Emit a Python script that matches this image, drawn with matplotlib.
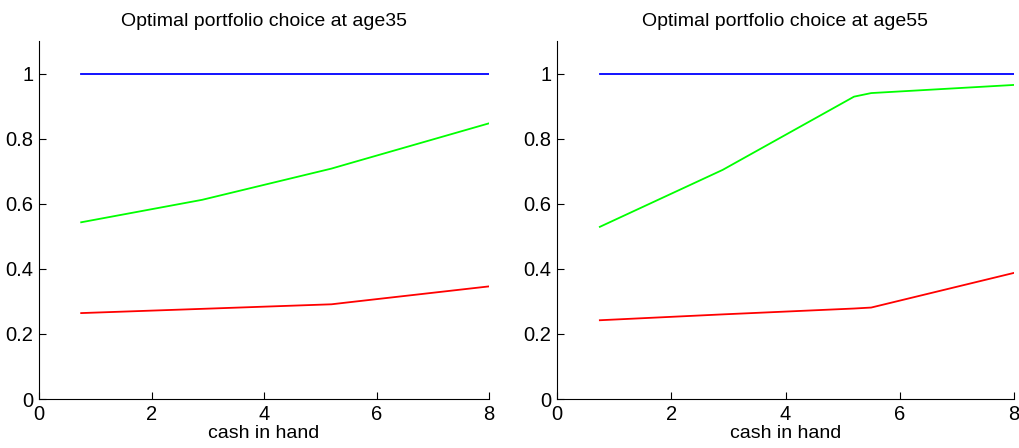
import matplotlib
matplotlib.use("Agg")
import matplotlib.pyplot as plt

plt.rcParams['font.family'] = ['Liberation Sans', 'DejaVu Sans']

cash = [0.75, 2.9, 5.2, 5.5, 8.0]

# age 35
riskless_35 = [1.0, 1.0, 1.0, 1.0, 1.0]
green_35 = [0.543, 0.612, 0.708, 0.723, 0.847]
red_35 = [0.264, 0.277, 0.291, 0.297, 0.346]

# age 55
riskless_55 = [1.0, 1.0, 1.0, 1.0, 1.0]
green_55 = [0.529, 0.704, 0.929, 0.940, 0.965]
red_55 = [0.242, 0.260, 0.278, 0.281, 0.3875]

titles = ["Optimal portfolio choice at age35", "Optimal portfolio choice at age55"]
xticks = [0, 2, 4, 6, 8]
yticks = [0, 0.2, 0.4, 0.6, 0.8, 1]
yticklabels = ["0", "0.2", "0.4", "0.6", "0.8", "1"]

fig = plt.figure(figsize=(10.19, 4.48), dpi=100)
rects = [[39/1019, 49/448, 450/1019, 358/448],
         [557/1019, 49/448, 457/1019, 358/448]]
series = [(riskless_35, green_35, red_35), (riskless_55, green_55, red_55)]

for rect, (b, g, r), title in zip(rects, series, titles):
    ax = fig.add_axes(rect)
    ax.plot(cash, b, color=(0, 0, 1), lw=1.3)
    ax.plot(cash, g, color=(0, 1, 0), lw=1.3)
    ax.plot(cash, r, color=(1, 0, 0), lw=1.3)
    ax.set_xlim(0, 8)
    ax.set_ylim(0, 1.1)
    ax.set_xticks(xticks)
    ax.set_xticklabels([str(t) for t in xticks])
    ax.set_yticks(yticks)
    ax.set_yticklabels(yticklabels)
    ax.spines['top'].set_visible(False)
    ax.spines['right'].set_visible(False)
    for s in ('left', 'bottom'):
        ax.spines[s].set_linewidth(0.8)
    ax.tick_params(direction='in', length=5, width=0.8, labelsize=14.5, pad=4)
    ax.set_title(title, fontsize=14, pad=11)
    ax.set_xlabel("cash in hand", fontsize=14, labelpad=1)

fig.savefig("out.png", dpi=100)
